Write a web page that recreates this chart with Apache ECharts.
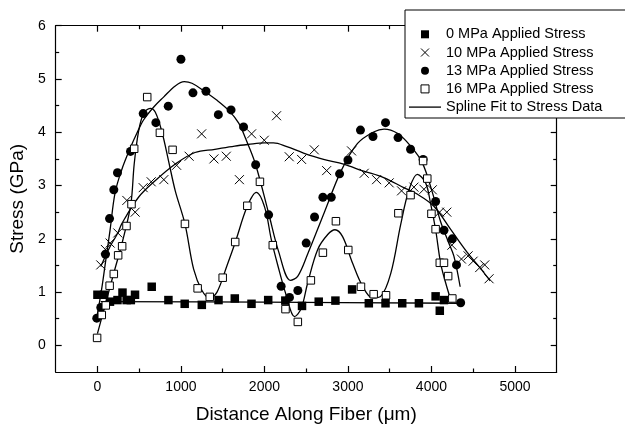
<!DOCTYPE html>
<html><head><meta charset="utf-8">
<script src="https://cdn.jsdelivr.net/npm/echarts@6/dist/echarts.min.js"></script>
<style>html,body{margin:0;padding:0;background:#fff}#c{width:625px;height:429px}</style>
</head><body><div id="c"></div>
<script>
const FONT = 'Liberation Sans, Arial, Helvetica, sans-serif';
const seriesNames = ['0 MPa Applied Stress', '10 MPa Applied Stress', '13 MPa Applied Stress', '16 MPa Applied Stress', 'Spline Fit to Stress Data'];
const xTicks = [0, 1000, 2000, 3000, 4000, 5000];
const xMinor = [500, 1500, 2500, 3500, 4500];
const yTicks = [0, 1, 2, 3, 4, 5, 6];
const yMinor = [0.5, 1.5, 2.5, 3.5, 4.5, 5.5];

const data0 = [[0,0.95],[80,0.95],[150,0.82],[240,0.85],[300,0.99],[350,0.85],[400,0.85],[450,0.95],[650,1.10],[850,0.85],[1045,0.78],[1250,0.76],[1450,0.85],[1645,0.88],[1845,0.78],[2045,0.85],[2250,0.84],[2450,0.74],[2650,0.82],[2850,0.84],[3050,1.05],[3250,0.79],[3450,0.79],[3650,0.79],[3850,0.79],[4050,0.92],[4100,0.65],[4150,0.85]];
const data10 = [[40,1.51],[95,1.80],[152,1.92],[244,2.11],[352,2.72],[452,2.50],[548,2.96],[644,3.07],[795,3.11],[948,3.38],[1098,3.55],[1248,3.97],[1395,3.50],[1543,3.55],[1700,3.11],[1846,3.97],[1998,3.85],[2145,4.31],[2297,3.54],[2445,3.49],[2597,3.67],[2745,3.28],[3043,3.65],[3195,3.23],[3343,3.11],[3494,3.05],[3642,2.90],[3790,2.97],[3910,2.93],[4010,2.92],[4097,2.50],[4184,2.50],[4245,1.88],[4359,1.62],[4439,1.68],[4499,1.58],[4578,1.46],[4638,1.51],[4690,1.25]];
const data13 = [[-8,0.51],[40,0.71],[96,1.71],[145,2.38],[196,2.92],[240,3.24],[396,3.64],[548,4.35],[700,4.18],[848,4.49],[1000,5.37],[1144,4.74],[1300,4.77],[1448,4.33],[1600,4.42],[1750,4.10],[1895,3.39],[2050,2.45],[2200,1.11],[2300,0.90],[2400,1.03],[2500,1.92],[2600,2.41],[2700,2.78],[2800,2.78],[2900,3.22],[3000,3.48],[3150,4.04],[3300,3.92],[3450,4.18],[3600,3.90],[3750,3.68],[3900,3.49],[4050,2.70],[4150,2.16],[4250,2.00],[4300,1.51],[4350,0.80]];
const data16 = [[-4,0.14],[52,0.57],[100,0.75],[146,1.12],[196,1.34],[248,1.69],[296,1.86],[348,2.24],[408,2.65],[440,3.69],[596,4.66],[748,3.99],[900,3.67],[1048,2.28],[1200,1.07],[1345,0.91],[1500,1.27],[1650,1.94],[1795,2.62],[1946,3.07],[2100,1.88],[2252,0.68],[2400,0.44],[2556,1.22],[2700,1.74],[2856,2.33],[3004,1.79],[3156,1.10],[3308,0.96],[3456,0.94],[3604,2.48],[3750,2.82],[3900,3.46],[3950,3.13],[4000,2.47],[4050,2.18],[4100,1.55],[4150,1.55],[4200,1.30],[4250,0.88]];

const fit0 = [[40,0.82],[2000,0.81],[4340,0.79]];
const fit10 = [[40,1.48],[150,1.85],[244,2.11],[294,2.29],[492,2.78],[691,3.09],[929,3.40],[1168,3.62],[1406,3.68],[1644,3.74],[1803,3.77],[2000,3.80],[2108,3.80],[2268,3.73],[2468,3.61],[2708,3.49],[2948,3.40],[3188,3.27],[3428,3.15],[3668,2.96],[3828,2.84],[4029,2.61],[4228,2.18],[4426,1.75],[4585,1.45],[4704,1.21]];
const fit13 = [[-10,0.50],[50,1.05],[100,1.60],[150,2.15],[212,2.87],[292,3.30],[392,3.70],[472,3.98],[552,4.23],[672,4.47],[792,4.66],[932,4.87],[1040,4.95],[1132,4.92],[1272,4.78],[1432,4.60],[1572,4.41],[1692,4.17],[1772,3.89],[1891,3.41],[2050,2.48],[2170,1.76],[2312,1.22],[2400,1.30],[2519,1.72],[2718,2.50],[2917,3.27],[3115,3.79],[3314,4.01],[3433,4.06],[3592,3.98],[3751,3.74],[3890,3.43],[4009,2.88],[4108,2.33],[4200,1.95],[4268,1.68],[4344,1.10]];
const fit16 = [[0,0.22],[100,0.80],[200,1.38],[300,1.95],[400,2.65],[440,3.40],[492,4.01],[552,4.35],[632,4.45],[692,4.38],[772,4.01],[852,3.46],[932,2.90],[1048,2.28],[1152,1.43],[1252,1.03],[1344,0.89],[1432,1.00],[1552,1.50],[1652,1.94],[1792,2.60],[1903,2.87],[2003,2.59],[2083,1.98],[2162,1.49],[2261,0.94],[2360,0.54],[2440,0.69],[2519,1.18],[2638,1.80],[2758,2.08],[2845,2.17],[2936,2.04],[3056,1.54],[3175,1.11],[3294,0.89],[3393,0.92],[3513,1.35],[3632,2.27],[3731,2.92],[3831,3.21],[3930,3.05],[3990,2.66],[4050,2.17],[4109,1.55],[4169,1.18],[4240,0.81]];

const BLACK = '#000';
const axLine = {show: true, onZero: false, lineStyle: {color: BLACK, width: 1.2}};
const noLine = {show: false, onZero: false};
const plain = v => String(v);
function xAx(pos, ticks, len, labels, line, extra) {
  return Object.assign({
    type: 'value', position: pos, min: -500, max: 5500, gridIndex: 0,
    axisLine: line ? axLine : noLine,
    axisTick: {show: true, inside: true, length: len, customValues: ticks, lineStyle: {color: BLACK, width: 1.2}},
    axisLabel: labels ? {show: true, customValues: ticks, formatter: plain, margin: 8, fontSize: 14, color: BLACK, fontFamily: FONT} : {show: false},
    splitLine: {show: false}
  }, extra || {});
}
function yAx(pos, ticks, len, labels, line, extra) {
  return Object.assign({
    type: 'value', position: pos, min: -0.5, max: 6, gridIndex: 0,
    axisLine: line ? axLine : noLine,
    axisTick: {show: true, inside: true, length: len, customValues: ticks, lineStyle: {color: BLACK, width: 1.2}},
    axisLabel: labels ? {show: true, customValues: ticks, formatter: plain, margin: 10, fontSize: 14, color: BLACK, fontFamily: FONT} : {show: false},
    splitLine: {show: false}
  }, extra || {});
}

const crossPath = 'path://M0,0L10,10M10,0L0,10';
const squarePath = 'path://M0,0H10V10H0Z';
const linePath = 'path://M0,0H32V1.3H0Z';

function fitSeries(d) {
  return {name: seriesNames[4], type: 'line', data: d, smooth: 0.35, symbol: 'none', z: 2,
    lineStyle: {color: BLACK, width: 1.3}, itemStyle: {color: BLACK}};
}

const option = {
  animation: false,
  backgroundColor: '#fff',
  grid: {left: 53.4, right: 68.3, top: 25.7, bottom: 51.6, containLabel: false},
  xAxis: [
    xAx('bottom', xTicks, 6, true, true, {name: 'Distance Along Fiber (\u03bcm)', nameLocation: 'middle', nameGap: 33,
      nameTextStyle: {fontSize: 19, color: BLACK, fontFamily: FONT}}),
    xAx('top', xTicks, 6, false, true),
    xAx('bottom', xMinor, 3.5, false, false),
    xAx('top', xMinor, 3.5, false, false)
  ],
  yAxis: [
    yAx('left', yTicks, 6, true, true, {name: 'Stress (GPa)', nameLocation: 'middle', nameGap: 24,
      nameTextStyle: {fontSize: 19, color: BLACK, fontFamily: FONT}}),
    yAx('right', yTicks, 6, false, true),
    yAx('left', yMinor, 3.5, false, false),
    yAx('right', yMinor, 3.5, false, false)
  ],
  legend: {
    orient: 'vertical', left: 405, top: 10,
    padding: [16.8, 40, 3.4, 4],
    itemGap: 3.2, itemWidth: 32, itemHeight: 8,
    borderColor: BLACK, borderWidth: 1, backgroundColor: '#fff',
    itemStyle: {borderWidth: 1},
    textStyle: {fontSize: 14.5, color: BLACK, fontFamily: FONT, lineHeight: 15},
    data: [
      seriesNames[0], seriesNames[1], seriesNames[2], seriesNames[3],
      {name: seriesNames[4], icon: linePath, itemStyle: {color: BLACK, borderWidth: 0}}
    ],
    z: 10
  },
  series: [
    {name: seriesNames[0], type: 'scatter', data: data0, symbol: squarePath, symbolSize: 8.5, z: 3,
      itemStyle: {color: BLACK, opacity: 1}},
    {name: seriesNames[1], type: 'scatter', data: data10, symbol: crossPath, symbolSize: 9, z: 3,
      itemStyle: {color: 'rgba(0,0,0,0)', borderColor: BLACK, borderWidth: 1, opacity: 1}},
    {name: seriesNames[2], type: 'scatter', data: data13, symbol: 'circle', symbolSize: 9, z: 3,
      itemStyle: {color: BLACK, opacity: 1}},
    {name: seriesNames[3], type: 'scatter', data: data16, symbol: squarePath, symbolSize: 7.5, z: 4,
      itemStyle: {color: '#fff', borderColor: BLACK, borderWidth: 1, opacity: 1}},
    fitSeries(fit0), fitSeries(fit10), fitSeries(fit13), fitSeries(fit16)
  ]
};
const chart = echarts.init(document.getElementById('c'), null, {renderer: 'canvas'});
chart.setOption(option);
</script></body></html>
